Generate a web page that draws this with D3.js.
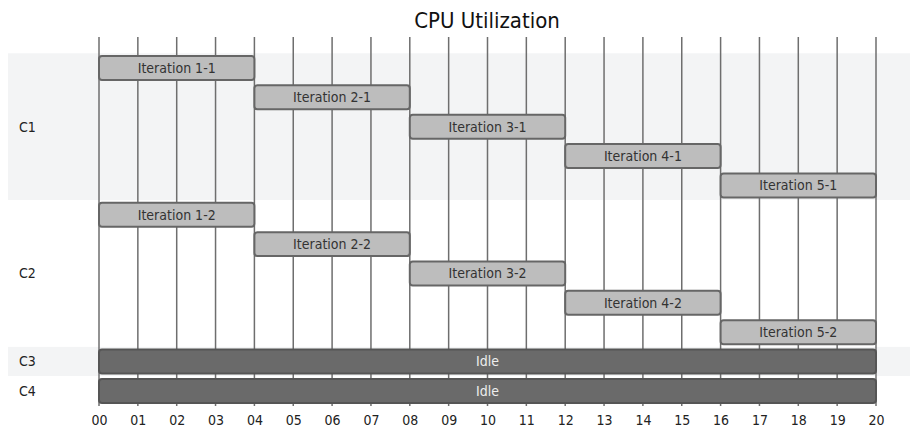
<!DOCTYPE html>
<html>
<head>
<meta charset="utf-8">
<script src="https://cdn.jsdelivr.net/npm/d3@7"></script>
<style>
  body { margin: 0; background: #fff; }
  svg { display: block; font-family: "DejaVu Sans Condensed", "DejaVu Sans", sans-serif; }
</style>
</head>
<body>
<svg id="chart" width="910" height="428"></svg>
<script>
const title = "CPU Utilization";
const sections = ["C1", "C2", "C3", "C4"];
const taskNames = [
  "Iteration 1-1", "Iteration 2-1", "Iteration 3-1", "Iteration 4-1", "Iteration 5-1",
  "Iteration 1-2", "Iteration 2-2", "Iteration 3-2", "Iteration 4-2", "Iteration 5-2",
  "Idle", "Idle"
];
const taskSections = ["C1", "C1", "C1", "C1", "C1", "C2", "C2", "C2", "C2", "C2", "C3", "C4"];
const taskStart = [0, 4, 8, 12, 16, 0, 4, 8, 12, 16, 0, 0];
const taskEnd = [4, 8, 12, 16, 20, 4, 8, 12, 16, 20, 20, 20];
const taskIdle = [false, false, false, false, false, false, false, false, false, false, true, true];
const tickValues = d3.range(0, 21);

const svg = d3.select("#chart");
const width = 910;

const x = d3.scaleLinear().domain([0, 20]).range([99, 876]);
const y = d3.scaleBand().domain(d3.range(taskNames.length)).range([53.3, 405.6]);
const barPad = 2.7;

// section bands
sections.forEach((s, i) => {
  const rows = d3.range(taskNames.length).filter(k => taskSections[k] === s);
  const y0 = y(rows[0]), y1 = y(rows[rows.length - 1]) + y.bandwidth();
  svg.append("rect")
    .attr("x", 8).attr("y", y0).attr("width", width - 8).attr("height", y1 - y0)
    .attr("fill", i % 2 === 0 ? "#f3f4f5" : "#ffffff");
  svg.append("text")
    .attr("x", 19).attr("y", (y0 + y1) / 2).attr("dy", "0.35em")
    .attr("font-size", 14).attr("fill", "#222")
    .text(s);
});

// grid lines
svg.append("g").selectAll("line").data(tickValues).join("line")
  .attr("x1", d => x(d)).attr("x2", d => x(d))
  .attr("y1", 37).attr("y2", 406)
  .attr("stroke", "#6e6e6e").attr("stroke-width", 1.5);

// axis labels
const axis = d3.axisBottom(x).tickValues(tickValues).tickSize(0).tickPadding(0)
  .tickFormat(d => d3.format("02d")(d));
const ag = svg.append("g").attr("transform", "translate(0,415)").call(axis);
ag.select(".domain").remove();
ag.selectAll("text").attr("font-size", 14).attr("fill", "#222")
  .attr("font-family", "\"DejaVu Sans Condensed\", \"DejaVu Sans\", sans-serif");

// tasks
const tasks = svg.append("g").selectAll("g").data(d3.range(taskNames.length)).join("g");
tasks.append("rect")
  .attr("x", i => x(taskStart[i])).attr("y", i => y(i) + barPad)
  .attr("width", i => x(taskEnd[i]) - x(taskStart[i]))
  .attr("height", y.bandwidth() - 2 * barPad)
  .attr("rx", 3).attr("ry", 3)
  .attr("fill", i => taskIdle[i] ? "#6a6a6a" : "#bdbdbd")
  .attr("stroke", i => taskIdle[i] ? "#555" : "#666")
  .attr("stroke-width", 2);
tasks.append("text")
  .attr("x", i => (x(taskStart[i]) + x(taskEnd[i])) / 2)
  .attr("y", i => y(i) + y.bandwidth() / 2).attr("dy", "0.35em")
  .attr("text-anchor", "middle").attr("font-size", 14)
  .attr("fill", i => taskIdle[i] ? "#eeeeee" : "#333")
  .text(i => taskNames[i]);

svg.append("text")
  .attr("x", 487).attr("y", 28).attr("text-anchor", "middle")
  .attr("font-size", 22).attr("fill", "#111")
  .text(title);
</script>
</body>
</html>
